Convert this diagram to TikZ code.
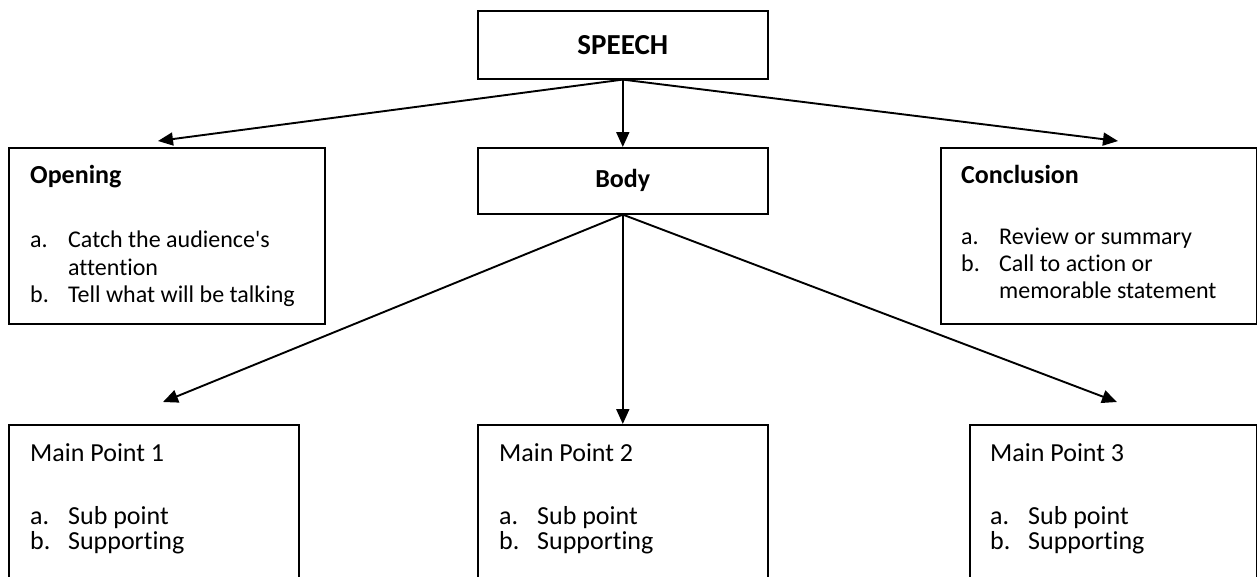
\documentclass[tikz,border=0pt]{standalone}
\usepackage{fontspec}
\setmainfont{Carlito}[Ligatures={TeXOff,NoCommon}]
\usetikzlibrary{arrows.meta}
\newcommand\itmline[2]{\makebox[38pt][l]{#1}#2}
\begin{document}
\begin{tikzpicture}[x=1pt,y=-1pt,
  box/.style={draw, line width=1.6pt, rectangle, anchor=north west, inner sep=0pt},
  conn/.style={line width=1.9pt, -{Triangle[length=15pt,width=13pt]}},
  txt/.style={anchor=base west, inner sep=0pt, font=\fontsize{24}{28}\selectfont},
  mtxt/.style={anchor=base west, inner sep=0pt, font=\fontsize{26}{30}\selectfont},
  ttl/.style={font=\fontsize{26}{30}\selectfont\bfseries}]
\useasboundingbox (0,0) rectangle (1257,576);
\clip (0,0) rectangle (1257,576);
% boxes
\node[box, font=\fontsize{29}{33}\selectfont\bfseries, minimum width=290pt, minimum height=68pt] (speech) at (477,10) {SPEECH};
\node[box, ttl, minimum width=290pt, minimum height=66pt] (body) at (477,147) {Body};
\node[box, minimum width=316pt, minimum height=176pt] (opening) at (8,147) {};
\node[box, minimum width=316pt, minimum height=176pt] (conclusion) at (940,147) {};
\node[box, minimum width=290pt, minimum height=200pt] (mp1) at (8,424) {};
\node[box, minimum width=290pt, minimum height=200pt] (mp2) at (477,424) {};
\node[box, minimum width=287pt, minimum height=200pt] (mp3) at (969,424) {};
% texts: Opening
\node[ttl, anchor=base west, inner sep=0pt] (op0) at (30,183) {Opening};
\node[txt] (op1) at (30,247) {\itmline{a.}{Catch the audience's}};
\node[txt] (op2) at (30,275) {\itmline{}{attention}};
\node[txt] (op3) at (30,302) {\itmline{b.}{Tell what will be talking}};
% Conclusion
\node[ttl, anchor=base west, inner sep=0pt] (co0) at (961,183) {Conclusion};
\node[txt] (co1) at (961,244) {\itmline{a.}{Review or summary}};
\node[txt] (co2) at (961,271) {\itmline{b.}{Call to action or}};
\node[txt] (co3) at (961,298) {\itmline{}{memorable statement}};
% Main points
\node[mtxt] (m10) at (30,461) {Main Point 1};
\node[mtxt] (m11) at (30,524) {\itmline{a.}{Sub point}};
\node[mtxt] (m12) at (30,549) {\itmline{b.}{Supporting}};
\node[mtxt] (m20) at (499,461) {Main Point 2};
\node[mtxt] (m21) at (499,524) {\itmline{a.}{Sub point}};
\node[mtxt] (m22) at (499,549) {\itmline{b.}{Supporting}};
\node[mtxt] (m30) at (990,461) {Main Point 3};
\node[mtxt] (m31) at (990,524) {\itmline{a.}{Sub point}};
\node[mtxt] (m32) at (990,549) {\itmline{b.}{Supporting}};
% arrow tip coordinates
\coordinate (tOp) at (158,141);
\coordinate (tCo) at (1118,141);
\coordinate (tM1) at (163,402);
\coordinate (tM3) at (1117,402);
% connectors
\draw[conn] (speech.south) -- (tOp);
\draw[conn] (speech.south) -- (body.north);
\draw[conn] (speech.south) -- (tCo);
\draw[conn] (body.south) -- (tM1);
\draw[conn] (body.south) -- (mp2.north);
\draw[conn] (body.south) -- (tM3);
\end{tikzpicture}
\end{document}
